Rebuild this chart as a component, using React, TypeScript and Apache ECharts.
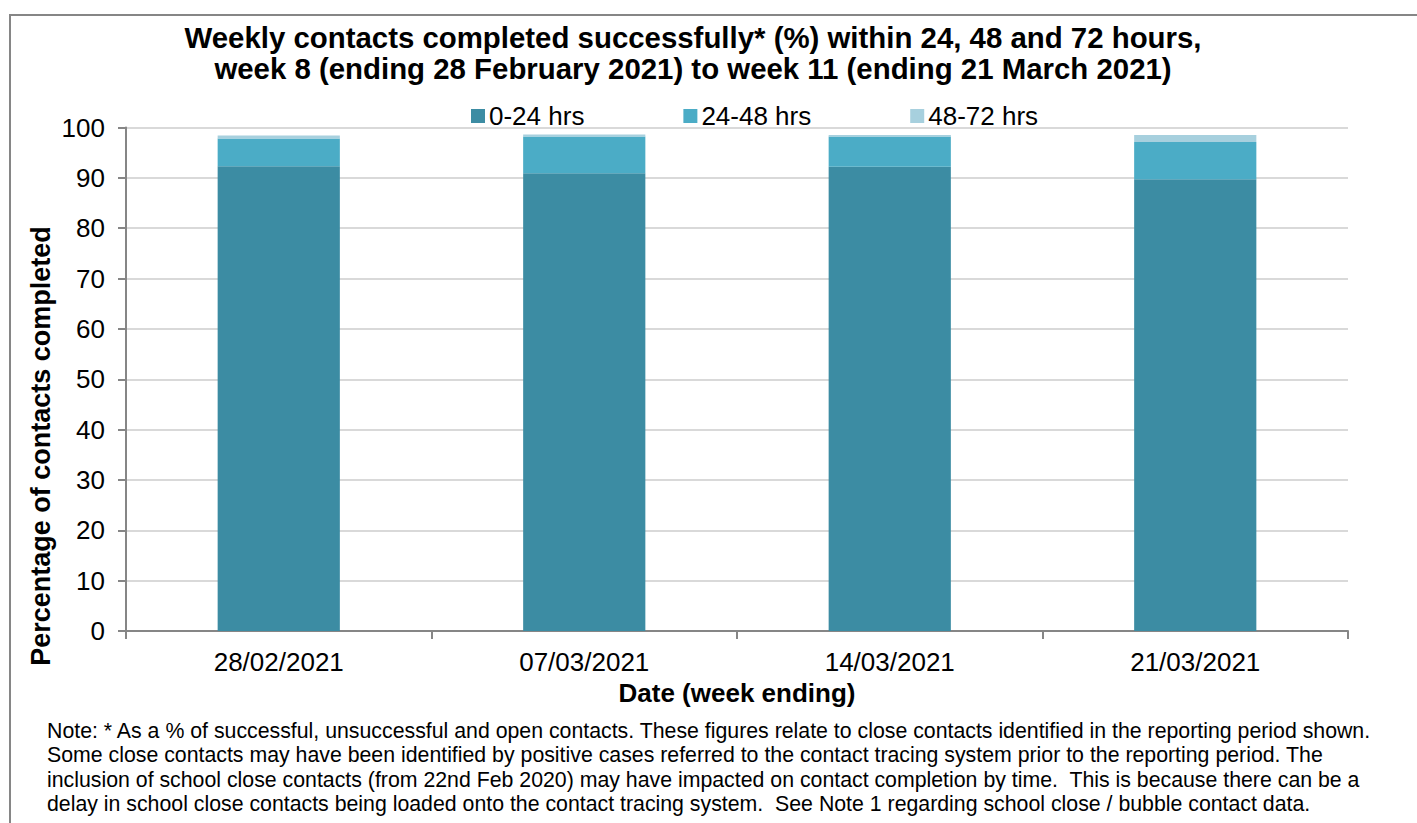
import React, { useEffect, useRef } from "react";
import * as echarts from "echarts";

const categories = ["28/02/2021", "07/03/2021", "14/03/2021", "21/03/2021"];
const seriesNames = ["0-24 hrs", "24-48 hrs", "48-72 hrs"];
const within24 = [92.3, 90.9, 92.2, 89.7];
const within48 = [5.5, 7.3, 6.0, 7.4];
const within72 = [0.6, 0.4, 0.3, 1.4];

const titleLines = [
  "Weekly contacts completed successfully* (%) within 24, 48 and 72 hours,",
  "week 8 (ending 28 February 2021) to week 11 (ending 21 March 2021)",
];
const yAxisTitle = "Percentage of contacts completed";
const xAxisTitle = "Date (week ending)";
const noteLines = [
  "Note: * As a % of successful, unsuccessful and open contacts. These figures relate to close contacts identified in the reporting period shown.",
  "Some close contacts may have been identified by positive cases referred to the contact tracing system prior to the reporting period. The",
  "inclusion of school close contacts (from 22nd Feb 2020) may have impacted on contact completion by time.  This is because there can be a",
  "delay in school close contacts being loaded onto the contact tracing system.  See Note 1 regarding school close / bubble contact data.",
];

const colors = ["#3C8CA3", "#4BACC6", "#A7D0DE"];
const FONT = "Liberation Sans, Arial, sans-serif";

export default function App() {
  const ref = useRef<HTMLDivElement>(null);
  useEffect(() => {
    if (!ref.current) return;
    const chart = echarts.init(ref.current, null, { renderer: "svg" });
    const data = [within24, within48, within72];
    chart.setOption({
      animation: false,
      backgroundColor: "#ffffff",
      textStyle: { fontFamily: FONT },
      color: colors,
      grid: { left: 126, right: 69, top: 127.5, bottom: 192, containLabel: false },
      legend: {
        data: seriesNames,
        left: 466,
        top: 98,
        itemWidth: 14,
        itemHeight: 14,
        itemGap: 99,
        icon: "rect",
        textStyle: { fontSize: 26, color: "#000", fontFamily: FONT, padding: [0, 0, 0, -1] },
      },
      xAxis: {
        type: "category",
        data: categories,
        name: xAxisTitle,
        nameLocation: "middle",
        nameGap: 49,
        nameTextStyle: { fontSize: 26, fontWeight: "bold", color: "#000", fontFamily: FONT },
        axisLine: { lineStyle: { color: "#868686", width: 2 } },
        axisTick: { show: true, length: 8, lineStyle: { color: "#868686", width: 2 } },
        axisLabel: { fontSize: 26, color: "#000", margin: 18, fontFamily: FONT },
      },
      yAxis: {
        type: "value",
        min: 0,
        max: 100,
        interval: 10,
        axisLine: { show: true, lineStyle: { color: "#868686", width: 2 } },
        axisTick: { show: true, length: 8, lineStyle: { color: "#868686", width: 2 } },
        axisLabel: { fontSize: 26, color: "#000", margin: 21, fontFamily: FONT },
        splitLine: { lineStyle: { color: "#D9D9D9", width: 2 } },
      },
      series: seriesNames.map((name, i) => ({
        name,
        type: "bar",
        stack: "total",
        barWidth: "40%",
        data: data[i],
        itemStyle: { color: colors[i] },
      })),
      graphic: [
        {
          type: "rect",
          shape: { x: 10, y: 15, width: 1420, height: 900 },
          style: { fill: "none", stroke: "#868686", lineWidth: 2 },
          silent: true,
          z: 100,
        },
        {
          type: "text",
          x: 693,
          y: 53,
          style: {
            text: titleLines.join("\n"),
            fill: "#000",
            font: `bold 29.4px ${FONT}`,
            textAlign: "center",
            textVerticalAlign: "middle",
            lineHeight: 31,
          },
        },
        {
          type: "text",
          x: 41,
          y: 446,
          rotation: Math.PI / 2,
          style: {
            text: yAxisTitle,
            fill: "#000",
            font: `bold 27px ${FONT}`,
            textAlign: "center",
            textVerticalAlign: "middle",
          },
        },
        {
          type: "text",
          x: 47,
          y: 719,
          style: {
            text: noteLines.join("\n"),
            fill: "#000",
            font: `21.3px ${FONT}`,
            textAlign: "left",
            textVerticalAlign: "top",
            lineHeight: 24.3,
          },
        },
      ],
    });
    return () => chart.dispose();
  }, []);
  return (
    <div
      ref={ref}
      style={{ position: "absolute", left: 0, top: 0, width: 1417, height: 823 }}
    />
  );
}
